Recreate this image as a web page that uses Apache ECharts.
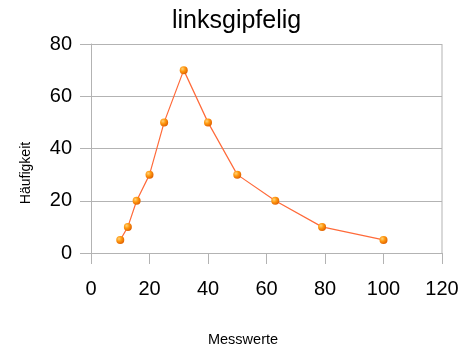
<!DOCTYPE html>
<html>
<head>
<meta charset="utf-8">
<script src="https://cdn.jsdelivr.net/npm/echarts@6/dist/echarts.min.js"></script>
<style>
  html, body { margin: 0; padding: 0; background: #fff; }
  #chart { width: 462px; height: 349px; }
</style>
</head>
<body>
<div id="chart"></div>
<script>
// Measured values (x) and their frequencies (y)
const messwerte = [10, 12.6, 15.6, 20, 25, 31.7, 40, 50, 63, 79, 100];
const haeufigkeit = [5, 10, 20, 30, 50, 70, 50, 30, 20, 10, 5];
const titleText = 'linksgipfelig';
const xName = 'Messwerte';
const yName = 'Häufigkeit';

const points = messwerte.map((x, i) => [x, haeufigkeit[i]]);
const font = 'Liberation Sans, Arial, sans-serif';
const gridColor = '#b3b3b3';

const chart = echarts.init(document.getElementById('chart'), null, { renderer: 'canvas' });
chart.setOption({
  backgroundColor: '#ffffff',
  animation: false,
  title: {
    text: titleText,
    left: 172,
    top: 9,
    padding: 0,
    textStyle: { fontFamily: font, fontSize: 25, fontWeight: 'normal', color: '#000' }
  },
  grid: { left: 91, right: 20, top: 44, bottom: 96, containLabel: false },
  xAxis: {
    type: 'value',
    min: 0, max: 120, interval: 20,
    axisLine: { show: true, lineStyle: { color: gridColor, width: 1 } },
    axisTick: { show: true, length: 11, lineStyle: { color: gridColor } },
    splitLine: { show: false },
    axisLabel: { fontFamily: font, fontSize: 20, color: '#000', margin: 26 }
  },
  yAxis: {
    type: 'value',
    min: 0, max: 80, interval: 20,
    axisLine: { show: true, lineStyle: { color: gridColor, width: 1 } },
    axisTick: { show: true, length: 11, lineStyle: { color: gridColor } },
    splitLine: { show: true, lineStyle: { color: gridColor, width: 1 } },
    axisLabel: { fontFamily: font, fontSize: 20, color: '#000', margin: 19 }
  },
  graphic: [
    {
      type: 'line',
      shape: { x1: 442, y1: 44, x2: 442, y2: 253 },
      style: { stroke: gridColor, lineWidth: 1 },
      silent: true
    },
    {
      type: 'text',
      x: 243, y: 340,
      style: { text: xName, fontFamily: font, fontSize: 14.5, fill: '#000', align: 'center', verticalAlign: 'middle' }
    },
    {
      type: 'text',
      x: 26, y: 173,
      rotation: Math.PI / 2,
      style: { text: yName, fontFamily: font, fontSize: 14, fill: '#000', align: 'center', verticalAlign: 'middle' }
    }
  ],
  series: [{
    type: 'line',
    data: points,
    symbol: 'circle',
    symbolSize: 8,
    lineStyle: { color: '#ff6a3a', width: 1.2 },
    itemStyle: {
      color: new echarts.graphic.RadialGradient(0.35, 0.35, 0.7, [
        { offset: 0, color: '#ffd27a' },
        { offset: 0.45, color: '#ff9a10' },
        { offset: 1, color: '#e06000' }
      ]),
      borderWidth: 0
    },
    z: 3
  }]
});
</script>
</body>
</html>
